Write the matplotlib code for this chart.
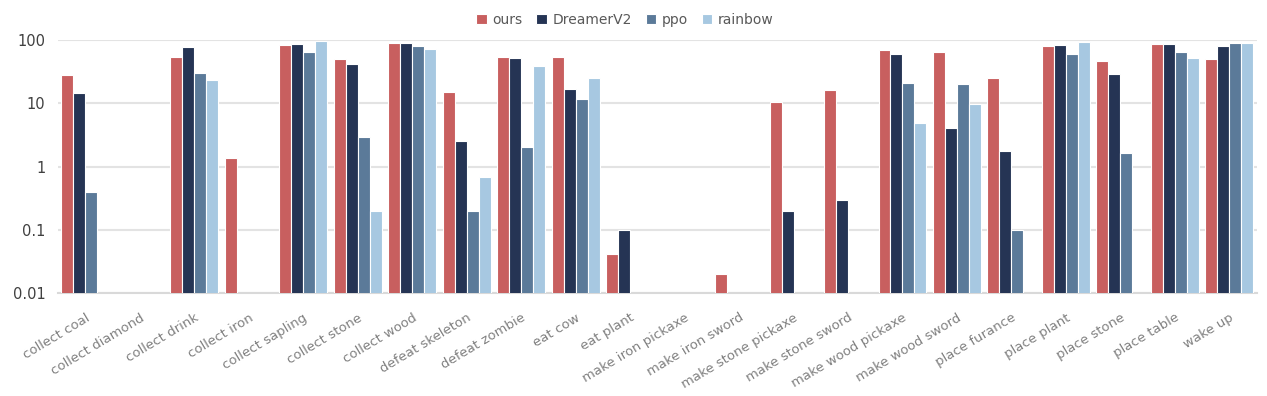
import numpy as np
import matplotlib
matplotlib.use("Agg")
import matplotlib.pyplot as plt

tasks = ["collect coal", "collect diamond", "collect drink", "collect iron",
         "collect sapling", "collect stone", "collect wood", "defeat skeleton",
         "defeat zombie", "eat cow", "eat plant", "make iron pickaxe",
         "make iron sword", "make stone pickaxe", "make stone sword",
         "make wood pickaxe", "make wood sword", "place furance", "place plant",
         "place stone", "place table", "wake up"]

# success rates (%), 0 = no bar
ours = [28, 0, 54, 1.35, 83, 50.7, 90.8, 15.1, 53.2, 53.2, 0.042, 0, 0.02,
        10.4, 16, 68.7, 64.6, 24.8, 80.4, 47.2, 85.5, 50.7]
dreamer = [14.7, 0, 78.5, 0, 86.5, 42, 90.8, 2.57, 52, 17, 0.1, 0, 0,
           0.2, 0.3, 59.4, 4.0, 1.77, 83, 29, 85.5, 81.4]
ppo = [0.39, 0, 29.8, 0, 65, 2.94, 81.4, 0.2, 2.0, 11.7, 0, 0, 0,
       0, 0, 20.7, 20, 0.1, 60.8, 1.66, 64.6, 90.8]
rainbow = [0, 0, 23, 0, 97.5, 0.2, 73, 0.68, 39, 25.4, 0, 0, 0,
           0, 0, 4.8, 9.8, 0, 93, 0, 52, 90.8]

series = [("ours", ours, "#c85f5f"),
          ("DreamerV2", dreamer, "#253454"),
          ("ppo", ppo, "#5b7a99"),
          ("rainbow", rainbow, "#a7c8e1")]

fig = plt.figure(figsize=(12.67, 3.96), dpi=100)
ax = fig.add_axes([0.0458, 0.26, 0.946, 0.639])

x = np.arange(len(tasks))
w = 0.22
for i, (name, vals, col) in enumerate(series):
    vals = np.array(vals, dtype=float)
    v = np.where(vals > 0, vals, np.nan)
    ax.bar(x + (i - 1.5) * w, v, width=w, color=col, edgecolor="white",
           linewidth=0.8, label=name, zorder=3)

ax.set_yscale("log")
ax.set_ylim(0.01, 100)
ax.set_xlim(-0.5, len(tasks) - 0.5)
ax.set_yticks([0.01, 0.1, 1, 10, 100])
ax.set_yticklabels(["0.01", "0.1", "1", "10", "100"])
ax.minorticks_off()
ax.yaxis.grid(True, color="#e3e3e3", linewidth=1.5, zorder=0)
for s in ["top", "right", "left"]:
    ax.spines[s].set_visible(False)
ax.spines["bottom"].set_color("#d9d9d9")
ax.spines["bottom"].set_linewidth(1.5)
ax.tick_params(axis="y", length=0, labelsize=10.5, colors="#404040", pad=9)
ax.tick_params(axis="x", length=0, pad=13)
ax.set_xticks(x)
ax.set_xticklabels(tasks, rotation=31, ha="right", rotation_mode="anchor",
                   fontsize=9.5, color="#808080")

ax.legend(loc="center", bbox_to_anchor=(625 / 1267, 1 - 20 / 396),
          bbox_transform=fig.transFigure, ncol=4, frameon=False,
          fontsize=10, handlelength=0.75, handleheight=0.75, columnspacing=1.0,
          handletextpad=0.4, labelcolor="#595959")

fig.savefig("out.png", dpi=100)
